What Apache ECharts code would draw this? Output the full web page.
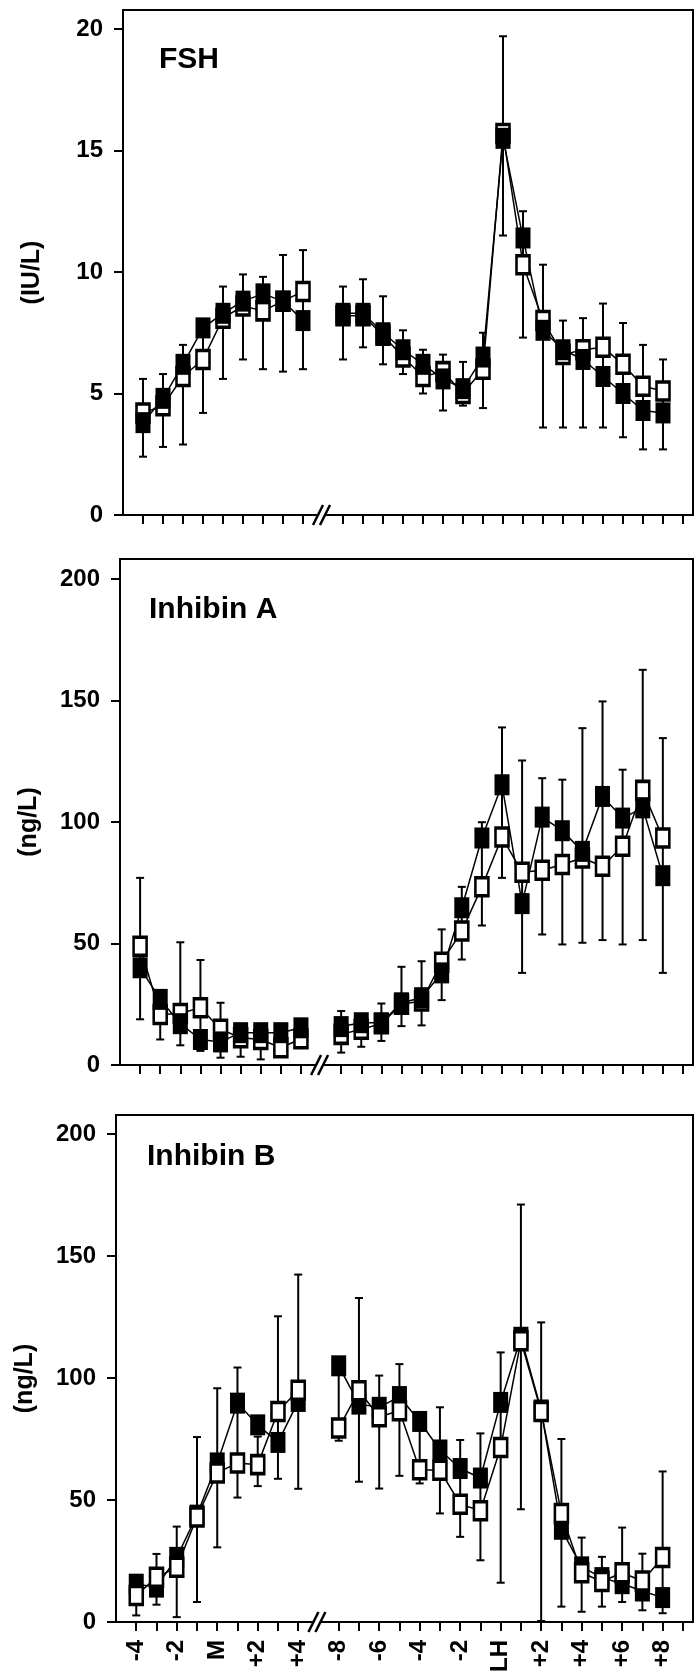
<!DOCTYPE html>
<html lang="en">

<head>
    <meta charset="utf-8">
    <title>FSH / Inhibin A / Inhibin B</title>
    <script src="https://cdn.jsdelivr.net/npm/echarts@6/dist/echarts.min.js"></script>
    <style>
        html, body { margin: 0; padding: 0; background: #fff; }
        #container { width: 696px; height: 1676px; }
    </style>
</head>

<body>
<div id="container"></div>
<script>
    // x positions: 0..8 follicular days (-4..+4 around menses), 9 = axis break, 10..26 around LH peak
    const xTickLabels = ["-4", "-3", "-2", "-1", "M", "+1", "+2", "+3", "+4", "",
        "-8", "-7", "-6", "-5", "-4", "-3", "-2", "-1", "LH",
        "+1", "+2", "+3", "+4", "+5", "+6", "+7", "+8", ""];
    const tickIdx = [0, 1, 2, 3, 4, 5, 6, 7, 8, 10, 11, 12, 13, 14, 15, 16, 17, 18,
        19, 20, 21, 22, 23, 24, 25, 26, 27];
    const labelIdx = [0, 2, 4, 6, 8, 10, 12, 14, 16, 18, 20, 22, 24, 26];

    // FSH (IU/L)
    const fshFilled = [3.8, 4.8, 6.2, 7.7, 8.3, 8.8, 9.1, 8.8, 8.0, null,
        8.3, 8.3, 7.5, 6.8, 6.2, 5.6, 5.2, 6.5, 15.5, 11.4, 7.6, 6.8, 6.4, 5.7, 5.0, 4.3, 4.2];
    const fshOpen = [4.2, 4.5, 5.7, 6.4, 8.1, 8.6, 8.4, 8.8, 9.2, null,
        8.2, 8.2, 7.4, 6.5, 5.7, 5.9, 5.0, 6.0, 15.7, 10.3, 8.0, 6.6, 6.8, 6.9, 6.2, 5.3, 5.1];
    const fshErrHi = [5.6, 5.8, 7.0, 7.8, 9.4, 9.9, 9.8, 10.7, 10.9, null,
        9.4, 9.7, 9.0, 7.6, 6.8, 6.6, 6.3, 7.5, 19.7, 12.5, 10.3, 8.0, 8.1, 8.7, 7.9, 7.0, 6.4];
    const fshErrLo = [2.4, 2.8, 2.9, 4.2, 5.6, 6.4, 6.0, 5.9, 6.0, null,
        6.4, 6.9, 6.2, 5.8, 5.0, 4.3, 4.5, 4.4, 11.5, 7.3, 3.6, 3.6, 3.6, 3.6, 3.2, 2.7, 2.7];

    // Inhibin A (ng/L)
    const inhAFilled = [40, 27, 17, 10.5, 9.5, 13.3, 13.3, 13.3, 15.3, null,
        15.8, 17.4, 17.4, 25.6, 27.7, 37.9, 64.7, 93.4, 115.3, 66.4, 102, 96.4, 87.9, 110.5, 101.6, 105.8, 77.9];
    const inhAOpen = [48.9, 20.8, 21.2, 23.6, 14.7, 11.2, 10.5, 7.1, 10.8, null,
        12.6, 14.7, 17, 25, 26.3, 42.3, 55.1, 73.3, 93.8, 79.3, 80.1, 82.5, 85.2, 81.8, 90, 113, 93.4];
    const inhAErrHi = [77, 29, 50.5, 43.2, 25.6, 15, 15, 15, 17, null,
        22.2, 19, 25.3, 40.4, 42.7, 55.8, 73.3, 99.9, 138.9, 125.3, 118, 117.4, 138.6, 149.6, 121.5, 162.6, 134.5];
    const inhAErrLo = [18.8, 10.5, 8.1, 5.8, 3.0, 3.4, 2.3, 7.1, 10.8, null,
        5.1, 7.5, 9.9, 16, 16.3, 26.7, 43.4, 57.4, 77, 37.9, 53.7, 49.6, 50.3, 51.4, 49.6, 51.4, 37.9];

    // Inhibin B (ng/L)
    const inhBFilled = [15.5, 14.3, 26.5, 43.8, 65.2, 89.7, 80.8, 73.6, 90.4, null,
        105, 89.3, 88, 92.4, 82.2, 70.5, 62.9, 59, 90, 116.7, 86.9, 38, 22.6, 18.2, 15.7, 12.7, 10];
    const inhBOpen = [10.9, 18.3, 22.4, 43, 61.1, 65.2, 64.5, 86.3, 95, null,
        79.5, 94.8, 84.1, 86.6, 62.4, 62.2, 48.3, 45.6, 71.5, 115.3, 86.3, 44.5, 20.2, 16.6, 20.2, 16.8, 26.4];
    const inhBErrHi = [16, 27.9, 39.1, 75.8, 95.8, 104.3, 76, 125.3, 142.4, null,
        105, 132.8, 101, 105.7, 83, 88, 74.6, 77.3, 110.5, 171.1, 122.8, 75, 34.6, 26.7, 38.7, 28, 61.7];
    const inhBErrLo = [2.7, 7.1, 2, 8.2, 30.6, 51, 55.7, 58.7, 54.6, null,
        74.3, 57.5, 54.7, 59.9, 56.8, 44.5, 34.9, 25.3, 16.1, 46.2, 0.4, 6.3, 4.2, 6.3, 8.2, 4.8, 3.6];

    const FONT = "Liberation Sans";

    const panels = [
        {
            title: "FSH", unit: "(IU/L)", yMax: 20.78, yTicks: [0, 5, 10, 15, 20],
            grid: { left: 123, right: 3, top: 10, height: 505 }, titlePos: { left: 159, top: 45 },
            filled: fshFilled, open: fshOpen, hi: fshErrHi, lo: fshErrLo, openOnTop: false
        },
        {
            title: "Inhibin A", unit: "(ng/L)", yMax: 208.2, yTicks: [0, 50, 100, 150, 200],
            grid: { left: 120, right: 3, top: 559, height: 506 }, titlePos: { left: 149, top: 595 },
            filled: inhAFilled, open: inhAOpen, hi: inhAErrHi, lo: inhAErrLo, openOnTop: false
        },
        {
            title: "Inhibin B", unit: "(ng/L)", yMax: 207.8, yTicks: [0, 50, 100, 150, 200],
            grid: { left: 116, right: 3, top: 1115, height: 507 }, titlePos: { left: 147, top: 1142 },
            filled: inhBFilled, open: inhBOpen, hi: inhBErrHi, lo: inhBErrLo, openOnTop: true
        }
    ];

    function toPoints(values) {
        return values.map((v, i) => [i, v === null ? "-" : v]);
    }

    function errorBarItem(params, api) {
        const x = api.value(0);
        const top = api.coord([x, api.value(2)]);
        const bottom = api.coord([x, api.value(1)]);
        const cap = 4;
        const style = { stroke: "#000", lineWidth: 2 };
        return {
            type: "group",
            children: [
                { type: "line", shape: { x1: top[0], y1: top[1], x2: bottom[0], y2: bottom[1] }, style: style },
                { type: "line", shape: { x1: top[0] - cap, y1: top[1], x2: top[0] + cap, y2: top[1] }, style: style },
                { type: "line", shape: { x1: bottom[0] - cap, y1: bottom[1], x2: bottom[0] + cap, y2: bottom[1] }, style: style }
            ]
        };
    }

    // the "//" mark where the day axis is broken
    function breakMarkItem(params, api) {
        const p = api.coord([api.value(0), api.value(1)]);
        const x = p[0], y = p[1];
        const style = { stroke: "#000", lineWidth: 2.5 };
        return {
            type: "group",
            children: [
                { type: "polygon", shape: { points: [[x - 9, y + 10], [x + 1, y - 10], [x + 7, y - 10], [x - 3, y + 10]] },
                    style: { fill: "#fff" } },
                { type: "line", shape: { x1: x - 10, y1: y + 10, x2: x, y2: y - 10 }, style: style },
                { type: "line", shape: { x1: x - 3, y1: y + 10, x2: x + 7, y2: y - 10 }, style: style }
            ]
        };
    }

    function buildChart() {
        const grid = [], xAxis = [], yAxis = [], series = [], title = [];

        panels.forEach((p, k) => {
            const isBottom = k === panels.length - 1;
            grid.push(Object.assign({
                show: true, borderColor: "#000", borderWidth: 2, backgroundColor: "transparent",
                containLabel: false, outerBoundsMode: "none"
            }, p.grid));

            title.push({
                text: p.title, left: p.titlePos.left, top: p.titlePos.top, padding: 0,
                textStyle: { fontFamily: FONT, fontSize: 30, fontWeight: "bold", color: "#000" }
            });

            xAxis.push({
                type: "value", gridIndex: k, min: -1, max: 27.5,
                splitLine: { show: false },
                axisLine: { show: false, onZero: false },
                axisTick: {
                    show: true, inside: false, length: 9, customValues: tickIdx,
                    lineStyle: { color: "#000", width: 2 }
                },
                axisLabel: {
                    show: isBottom, customValues: labelIdx, rotate: 90, margin: 18,
                    fontFamily: FONT, fontSize: 24, fontWeight: "bold", color: "#000",
                    formatter: v => xTickLabels[Math.round(v)]
                }
            });

            yAxis.push({
                type: "value", gridIndex: k, min: 0, max: p.yMax,
                name: p.unit, nameLocation: "middle", nameGap: 78,
                nameTextStyle: { fontFamily: FONT, fontSize: 25, fontWeight: "bold", color: "#000",
                    padding: [0, 20, 0, 0] },
                splitLine: { show: false },
                axisLine: { show: false, onZero: false },
                axisTick: {
                    show: true, inside: false, length: 9, customValues: p.yTicks,
                    lineStyle: { color: "#000", width: 2 }
                },
                axisLabel: {
                    customValues: p.yTicks, margin: 20,
                    fontFamily: FONT, fontSize: 24, fontWeight: "bold", color: "#000"
                }
            });

            const errData = [];
            p.hi.forEach((h, i) => {
                if (h !== null) errData.push([i, p.lo[i], h]);
            });
            series.push({
                type: "custom", xAxisIndex: k, yAxisIndex: k, z: 1,
                renderItem: errorBarItem, data: errData, silent: true
            });

            const filledSeries = {
                type: "line", xAxisIndex: k, yAxisIndex: k, data: toPoints(p.filled),
                symbol: "rect", symbolSize: [15, 21], showAllSymbol: true, connectNulls: false,
                lineStyle: { color: "#000", width: 1.5 },
                itemStyle: { color: "#000", borderColor: "#000", borderWidth: 0 }
            };
            const openSeries = {
                type: "line", xAxisIndex: k, yAxisIndex: k, data: toPoints(p.open),
                symbol: "rect", symbolSize: [13, 18], showAllSymbol: true, connectNulls: false,
                lineStyle: { color: "#000", width: 1.5 },
                itemStyle: { color: "#fff", borderColor: "#000", borderWidth: 3 }
            };
            if (p.openOnTop) {
                series.push(filledSeries, openSeries);
            } else {
                series.push(openSeries, filledSeries);
            }

            series.push({
                type: "custom", xAxisIndex: k, yAxisIndex: k, z: 5,
                renderItem: breakMarkItem, data: [[9, 0]], silent: true
            });
        });

        const option = {
            animation: false,
            backgroundColor: "#fff",
            title: title,
            grid: grid,
            xAxis: xAxis,
            yAxis: yAxis,
            series: series
        };

        let chart = echarts.init(document.getElementById("container"));
        chart.setOption(option);
    }

    buildChart();
</script>
</body>

</html>
